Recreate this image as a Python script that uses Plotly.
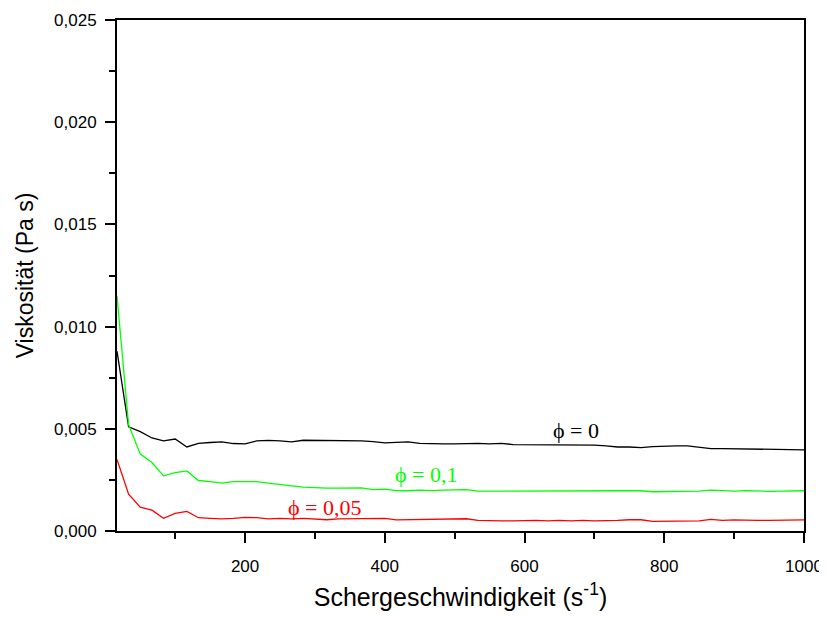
import plotly.graph_objects as go

shear_rate = [16.7, 33.3, 50, 66.7, 83.3, 100, 116.7, 133.3, 150, 166.7,
              183.3, 200, 216.7, 233.3, 250, 266.7, 283.3, 300, 316.7, 333.3,
              350, 366.7, 383.3, 400, 416.7, 433.3, 450, 466.7, 483.3, 500,
              516.7, 533.3, 550, 566.7, 583.3, 600, 616.7, 633.3, 650, 666.7,
              683.3, 700, 716.7, 733.3, 750, 766.7, 783.3, 800, 816.7, 833.3,
              850, 866.7, 883.3, 900, 916.7, 933.3, 950, 966.7, 983.3, 1000]

visc_phi_0 = [0.0088, 0.0051, 0.00486, 0.00455, 0.00441, 0.0045, 0.00411, 0.00429, 0.00433, 0.00436,
              0.00428, 0.00426, 0.00441, 0.00443, 0.00441, 0.00436, 0.00444, 0.00444, 0.00441, 0.00441,
              0.00441, 0.00441, 0.00437, 0.00431, 0.00434, 0.00436, 0.00429, 0.00426, 0.00426, 0.00426,
              0.00428, 0.00429, 0.00426, 0.00429, 0.00423, 0.00423, 0.00423, 0.00421, 0.00421, 0.00423,
              0.0042, 0.0042, 0.00416, 0.00411, 0.00411, 0.00408, 0.00413, 0.00416, 0.00416, 0.00416,
              0.0041, 0.00403, 0.00403, 0.00402, 0.004, 0.004, 0.004, 0.004, 0.00398, 0.00397]

visc_phi_01 = [0.0115, 0.0052, 0.00376, 0.00335, 0.0027, 0.00286, 0.00294, 0.00247, 0.00242, 0.00234,
               0.00242, 0.00242, 0.00242, 0.00234, 0.00229, 0.00221, 0.00215, 0.00211, 0.0021, 0.0021,
               0.0021, 0.00211, 0.00202, 0.00205, 0.00198, 0.00197, 0.002, 0.00198, 0.002, 0.00202,
               0.00202, 0.00195, 0.00195, 0.00195, 0.00194, 0.00195, 0.00195, 0.00195, 0.00195, 0.00195,
               0.00195, 0.00195, 0.00195, 0.00197, 0.00198, 0.00197, 0.00192, 0.00192, 0.00192, 0.00192,
               0.00195, 0.002, 0.00198, 0.00195, 0.00198, 0.00195, 0.00194, 0.00195, 0.00195, 0.00197]

visc_phi_005 = [0.0035, 0.0018, 0.00117, 0.00102, 0.00062, 0.00086, 0.00096, 0.00065, 0.00062, 0.00059,
                0.00062, 0.00067, 0.00065, 0.00059, 0.00062, 0.00059, 0.00062, 0.00059, 0.00055, 0.00059,
                0.00059, 0.00059, 0.00059, 0.00062, 0.00054, 0.00055, 0.00059, 0.00059, 0.00059, 0.00059,
                0.0006, 0.00052, 0.0005, 0.0005, 0.0005, 0.00052, 0.00052, 0.0005, 0.00052, 0.0005,
                0.00052, 0.0005, 0.0005, 0.00052, 0.00055, 0.00055, 0.00047, 0.00047, 0.00047, 0.00047,
                0.0005, 0.00057, 0.00052, 0.00054, 0.00052, 0.00052, 0.00052, 0.00052, 0.00052, 0.00054]

labels = ["ϕ = 0", "ϕ = 0,1", "ϕ = 0,05"]
label_x = [674, 460, 314]
label_y = [0.00493, 0.00278, 0.00117]
colors = ["#000000", "#00ff00", "#ff0000"]

x_ticks = [200, 400, 600, 800, 1000]

fig = go.Figure()
for ys, c in zip([visc_phi_0, visc_phi_01, visc_phi_005], colors):
    fig.add_trace(go.Scatter(x=shear_rate, y=ys, mode="lines",
                             line=dict(color=c, width=1.3), showlegend=False))

for t, lx, ly, c in zip(labels, label_x, label_y, colors):
    fig.add_annotation(x=lx, y=ly, text=t, showarrow=False,
                       font=dict(family="Liberation Serif", size=22, color=c))

axis_common = dict(showgrid=False, zeroline=False, showline=True, linecolor="black",
                   linewidth=2, mirror=True, ticks="outside", tickcolor="black",
                   tickwidth=1.5, ticklen=10, automargin=False,
                   tickfont=dict(family="Liberation Sans", size=17, color="black"))

fig.update_xaxes(range=[16.7, 1000], tickvals=x_ticks, ticklabelstandoff=9,
                 minor=dict(ticks="outside", dtick=100, tick0=0, ticklen=6,
                            tickcolor="black", tickwidth=1.5),
                 title=dict(text="Schergeschwindigkeit (s<sup>-1</sup>)",
                            font=dict(family="Liberation Sans", size=25, color="black"),
                            standoff=13),
                 **axis_common)
fig.update_yaxes(range=[0, 0.025], dtick=0.005, tick0=0, tickformat=".3f",
                 ticklabelstandoff=5,
                 minor=dict(ticks="outside", dtick=0.0025, ticklen=6,
                            tickcolor="black", tickwidth=1.5),
                 title=dict(text="Viskosität (Pa s)",
                            font=dict(family="Liberation Sans", size=23, color="black"),
                            standoff=14),
                 **axis_common)

# the page body adds an 8px offset, so the figure is 8px smaller and margins compensate
fig.update_layout(width=819, height=609, separators=",.",
                  margin=dict(l=109, r=23, t=12, b=86),
                  plot_bgcolor="white", paper_bgcolor="white")

fig.write_html("out.html")
